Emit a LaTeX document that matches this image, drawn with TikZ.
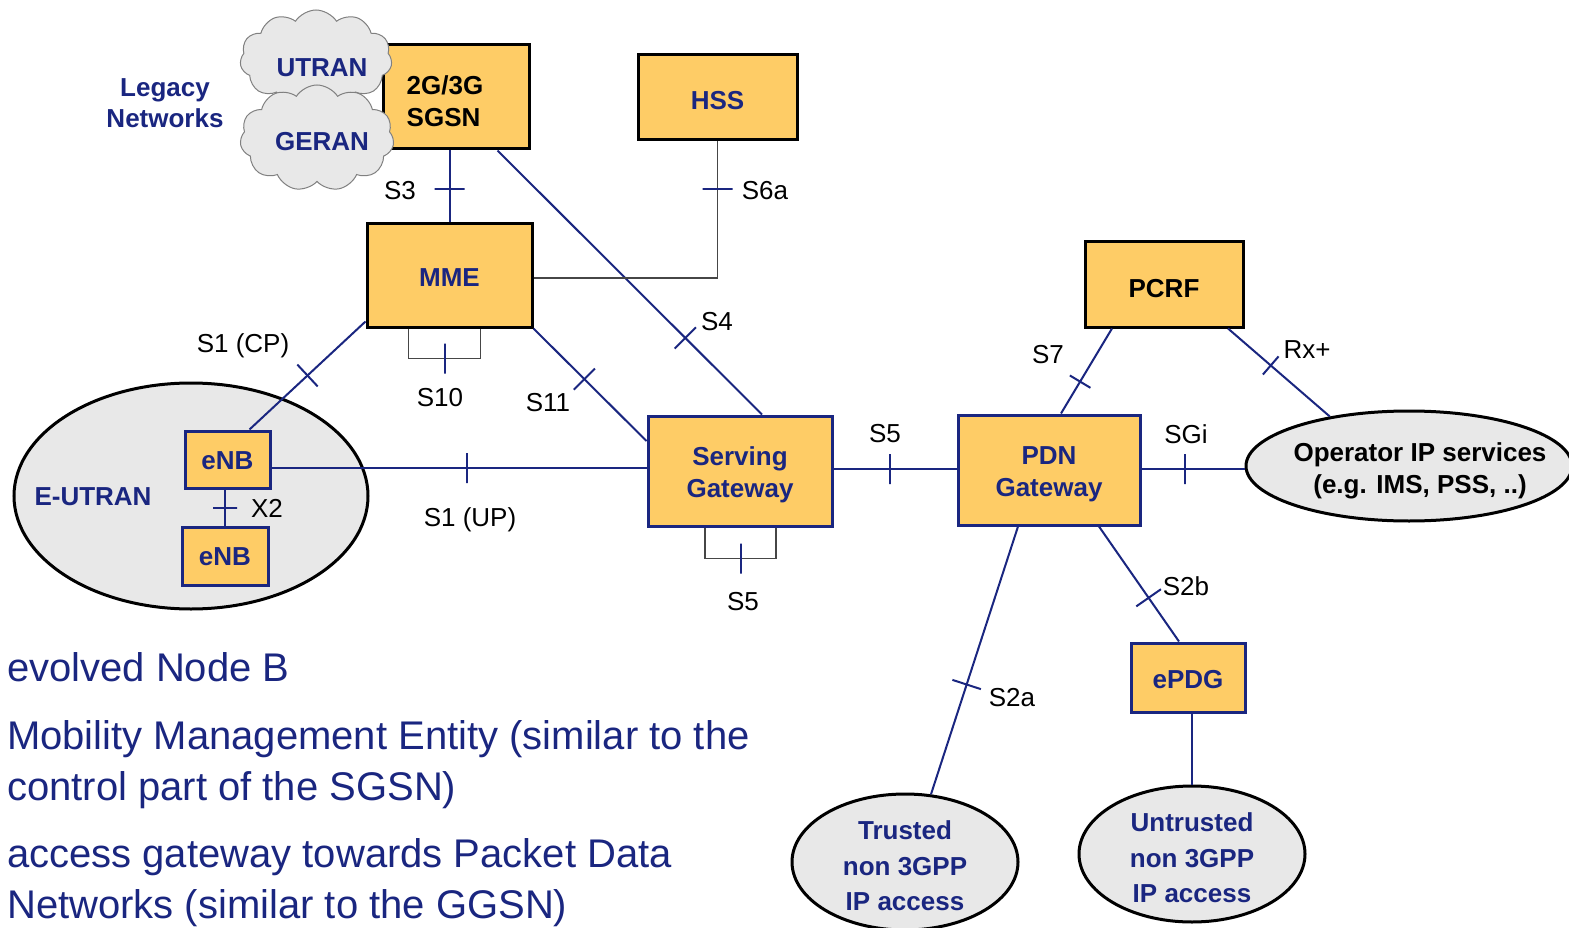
\documentclass[tikz,border=0pt]{standalone}
\usepackage{fontspec}
\setmainfont{Liberation Sans}
\usetikzlibrary{shapes.geometric,shapes.symbols,calc}
\definecolor{navy}{RGB}{26,38,128}
\definecolor{boxfill}{RGB}{254,204,102}
\definecolor{greyfill}{RGB}{232,232,232}
\definecolor{linkgray}{RGB}{70,70,70}
% lower a (possibly multi-line) text block inside its node without changing the node size
\newcommand{\shiftdown}[2]{\raisebox{-#1}[\height][\depth]{\begin{tabular}{@{}c@{}}#2\end{tabular}}}
\begin{document}
\begin{tikzpicture}[x=1pt,y=-1pt,
  txt/.style={font=\fontsize{26}{32}\selectfont},
  btxt/.style={font=\fontsize{26}{32}\selectfont\bfseries},
  box/.style={rectangle, fill=boxfill, line width=3pt, inner sep=0pt, align=center, btxt},
  kbox/.style={box, draw=black, text=navy},
  bbox/.style={box, draw=black, text=black},
  nbox/.style={box, draw=navy, text=navy},
  oval/.style={ellipse, fill=greyfill, draw=black, line width=3pt, inner sep=0pt, align=center, btxt},
  ovaltxt/.style={align=center, font=\fontsize{26}{35.5}\selectfont\bfseries, text=navy, yshift=-4pt},
  puff/.style={cloud, cloud puffs=11, cloud puff arc=115, cloud ignores aspect, fill=greyfill, draw=gray, line width=1pt, inner sep=0pt},
  link/.style={draw=navy, line width=2pt},
  glink/.style={draw=linkgray, line width=1.6pt},
  tk/.style={sloped, draw=navy, line width=2pt, inner sep=0pt, outer sep=0pt, minimum width=0pt, minimum height=30pt},
  stk/.style={tk, minimum height=24pt},
  lbl/.style={txt, text=black, inner sep=0pt},
  para/.style={font=\fontsize{40}{51}\selectfont, text=navy, inner sep=0pt, anchor=base west}
]
\useasboundingbox (0,0) rectangle (1569,928);

% grey access-network ellipses
\node[oval, minimum width=354pt, minimum height=226pt] (eutran) at (191,496) {};
\node[btxt, text=navy] (eutranlbl) at (93,497) {E-UTRAN};
\node[oval, text=black, minimum width=326pt, minimum height=110pt,
      label={[btxt, align=center, xshift=11pt, yshift=-5pt]center:Operator IP services\\(e.g. IMS, PSS, ..)}] (opip) at (1409,466) {};
\node[oval, minimum width=226pt, minimum height=136pt,
      label={[ovaltxt]center:Trusted\\non 3GPP\\IP access}] (trusted) at (905,862) {};
\node[oval, minimum width=226pt, minimum height=136pt,
      label={[ovaltxt]center:Untrusted\\non 3GPP\\IP access}] (untrusted) at (1192,854) {};

% core network elements
\node[bbox, minimum width=146pt, minimum height=104pt,
      label={[btxt, align=left, xshift=-11pt, yshift=-4pt]center:2G/3G\\SGSN}] (sgsn) at (456,97) {};
\node[puff, minimum width=152pt, minimum height=98pt,
      label={[btxt, text=navy, xshift=6pt, yshift=-9pt]center:UTRAN}] (utran) at (316,59) {};
\node[puff, minimum width=154pt, minimum height=106pt,
      label={[btxt, text=navy, xshift=5pt, yshift=-4pt]center:GERAN}] (geran) at (317,138) {};
\node[btxt, text=navy, align=center, font=\fontsize{26}{31}\selectfont\bfseries] (legacy) at (165,103) {Legacy\\Networks};

\node[kbox, minimum width=159pt, minimum height=85pt] (hss) at (717.5,97.5) {\shiftdown{6pt}{HSS}};
\node[kbox, minimum width=165pt, minimum height=103pt] (mme) at (449.5,275.5) {\shiftdown{4.5pt}{MME}};
\node[bbox, minimum width=158pt, minimum height=85pt] (pcrf) at (1164,284.5) {\shiftdown{7pt}{PCRF}};
\node[nbox, minimum width=184pt, minimum height=110pt] (sgw) at (740,471) {\shiftdown{4pt}{Serving\\Gateway}};
\node[nbox, minimum width=182pt, minimum height=110pt] (pgw) at (1049,470) {\shiftdown{4.5pt}{PDN\\Gateway}};
\node[nbox, minimum width=114pt, minimum height=69pt] (epdg) at (1188,677.5) {\shiftdown{5pt}{ePDG}};
\node[nbox, minimum width=85pt, minimum height=57pt] (enb1) at (227.5,459.5) {\shiftdown{4pt}{eNB}};
\node[nbox, minimum width=86pt, minimum height=58pt] (enb2) at (225,556) {\shiftdown{3pt}{eNB}};

% interfaces
\draw[link] (mme.north) -- (mme.north |- sgsn.south) node[pos=0.47, tk] (tS3) {};
\draw[link] ([xshift=-33pt]sgsn.south east) -- ([xshift=22pt]sgw.north) node[pos=0.71, tk] (tS4) {};
\draw[glink] ([yshift=-2.5pt]mme.east) -| (hss.south) node[pos=0.826, tk] (tS6a) {};
\draw[link] ([yshift=7pt]mme.south west) -- ([xshift=22pt]enb1.north) node[pos=0.5, tk] (tS1c) {};
\draw[draw=linkgray, line width=1.2pt] ([xshift=-41pt]mme.south) -- ++(0,30) -- ++(72,0) node[midway, tk] (tS10) {} -- ++(0,-30);
\draw[link] (mme.south east) -- ([yshift=30pt]sgw.west) node[pos=0.45, tk] (tS11) {};
\draw[link] ([yshift=-8.5pt]enb1.east) -- ([yshift=-8.5pt]enb1.east -| sgw.west) node[pos=0.52, tk] (tS1u) {};
\draw[link] (enb2.north) -- (enb2.north |- enb1.south) node[pos=0.5, stk] (tX2) {};
\draw[draw=linkgray, line width=1.2pt] ([xshift=-35pt]sgw.south) -- ++(0,31) -- ++(71,0) node[midway, tk] (tS5b) {} -- ++(0,-31);
\draw[link] ([yshift=2pt]sgw.east) -- ([yshift=2pt]sgw.east -| pgw.west) node[pos=0.46, tk] (tS5) {};
\draw[link] ([xshift=12pt]pgw.north) -- ([xshift=-52pt]pcrf.south) node[pos=0.375, stk] (tS7) {};
\draw[link] ([xshift=64pt]pcrf.south) -- (opip.148.7) node[pos=0.42, stk] (tRx) {};
\draw[link] ([yshift=1pt]pgw.east) -- ([yshift=1pt]pgw.east -| opip.west) node[pos=0.42, tk] (tSGi) {};
\draw[link] ([xshift=-31pt]pgw.south) -- (trusted.69.5) node[pos=0.59, tk] (tS2a) {};
\draw[link] ([xshift=50pt]pgw.south) -- ([xshift=-9pt]epdg.north) node[pos=0.62, tk] (tS2b) {};
\draw[link] (untrusted.north) -- (untrusted.north |- epdg.south);

% interface names
\node[lbl] (lS3) at (400,191) {S3};
\node[lbl] (lS6a) at (765,191) {S6a};
\node[lbl] (lS4) at (717,322) {S4};
\node[lbl] (lS1c) at (243,346) {S1 (CP)};
\node[lbl] (lS10) at (440,398) {S10};
\node[lbl] (lS11) at (548,403) {S11};
\node[lbl] (lX2) at (267,508) {X2};
\node[lbl] (lS1u) at (470,520) {S1 (UP)};
\node[lbl] (lS5) at (885,434) {S5};
\node[lbl] (lS5b) at (743,602) {S5};
\node[lbl] (lS7) at (1048,355) {S7};
\node[lbl] (lRx) at (1307,350) {Rx+};
\node[lbl] (lSGi) at (1186,434) {SGi};
\node[lbl] (lS2b) at (1186,586) {S2b};
\node[lbl] (lS2a) at (1012,698) {S2a};

% glossary
\node[para] (g1) at (7,681) {evolved Node B};
\node[para] (g2) at (7,749) {Mobility Management Entity (similar to the};
\node[para] (g3) at (7,800) {control part of the SGSN)};
\node[para] (g4) at (7,867) {access gateway towards Packet Data};
\node[para] (g5) at (7,918) {Networks (similar to the GGSN)};
\end{tikzpicture}
\end{document}
